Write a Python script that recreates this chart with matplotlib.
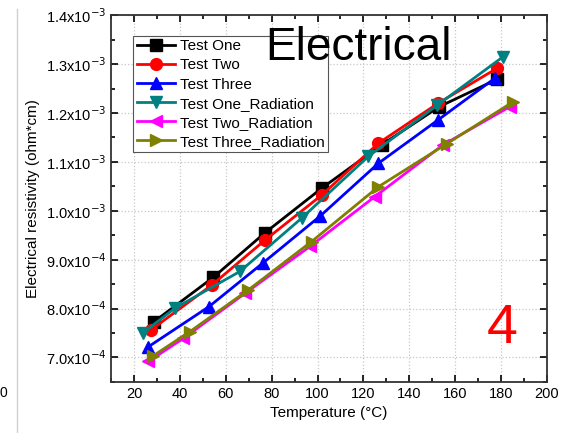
import matplotlib
matplotlib.use('Agg')
import matplotlib.pyplot as plt
from matplotlib.ticker import MultipleLocator, FuncFormatter
from matplotlib.lines import Line2D

# data (temperature in C, resistivity in ohm*cm)
t_one = [28.7, 54.6, 77.1, 101.8, 128.0, 153.1, 178.3]
r_one = [7.73e-4, 8.64e-4, 9.55e-4, 1.046e-3, 1.135e-3, 1.213e-3, 1.269e-3]
t_two = [27.3, 53.9, 77.1, 101.8, 126.5, 152.6, 178.1]
r_two = [7.56e-4, 8.48e-4, 9.40e-4, 1.032e-3, 1.138e-3, 1.220e-3, 1.291e-3]
t_three = [26.3, 52.7, 76.4, 101.1, 126.5, 152.6, 177.3]
r_three = [7.22e-4, 8.04e-4, 8.94e-4, 9.89e-4, 1.097e-3, 1.186e-3, 1.271e-3]
t_one_rad = [23.8, 37.9, 66.2, 93.1, 122.1, 152.2, 180.9]
r_one_rad = [7.50e-4, 8.01e-4, 8.76e-4, 9.85e-4, 1.111e-3, 1.216e-3, 1.315e-3]
t_two_rad = [26.3, 41.5, 68.4, 96.7, 125.0, 154.8, 183.9]
r_two_rad = [6.92e-4, 7.39e-4, 8.31e-4, 9.27e-4, 1.029e-3, 1.135e-3, 1.213e-3]
t_three_rad = [28.2, 44.4, 69.8, 97.4, 126.5, 156.3, 185.3]
r_three_rad = [7.03e-4, 7.53e-4, 8.38e-4, 9.37e-4, 1.049e-3, 1.137e-3, 1.223e-3]

series = [
    ('Test One', t_one, r_one, 'black', 's'),
    ('Test Two', t_two, r_two, '#ff0000', 'o'),
    ('Test Three', t_three, r_three, '#0000ff', '^'),
    ('Test One_Radiation', t_one_rad, r_one_rad, '#008080', 'v'),
    ('Test Two_Radiation', t_two_rad, r_two_rad, '#ff00ff', '<'),
    ('Test Three_Radiation', t_three_rad, r_three_rad, '#808000', '>'),
]

plt.rcParams['font.family'] = ['Liberation Sans', 'DejaVu Sans']

fig = plt.figure(figsize=(5.61, 4.33), dpi=100)
ax = fig.add_axes([0.198, 0.118, 0.777, 0.847])

for name, t, r, c, m in series:
    ax.plot(t, r, color=c, marker=m, markersize=8.5, linewidth=2, label=name)

ax.set_xlim(10, 200)
ax.set_ylim(6.5e-4, 1.4e-3)
ax.xaxis.set_major_locator(MultipleLocator(20))
ax.xaxis.set_minor_locator(MultipleLocator(10))
ax.yaxis.set_major_locator(MultipleLocator(1e-4))
ax.yaxis.set_minor_locator(MultipleLocator(0.5e-4))

def sci_fmt(v, pos):
    exp = -3 if v >= 1e-3 - 1e-9 else -4
    mant = v / 10 ** exp
    return '%.1fx10$^{%d}$' % (mant, exp)

ax.yaxis.set_major_formatter(FuncFormatter(sci_fmt))
ax.tick_params(which='both', direction='in', top=True, right=True, width=1.2)
ax.tick_params(which='major', length=5, labelsize=10.5)
ax.tick_params(which='minor', length=3)
ax.grid(True, which='major', color='#c8c8c8', linestyle=':', linewidth=0.9)
for s in ax.spines.values():
    s.set_linewidth(1.3)
    s.set_color('#333333')

ax.set_xlabel('Temperature (°C)', fontsize=11)
ax.set_ylabel('Electrical resistivity (ohm*cm)', fontsize=11)

leg = ax.legend(loc='upper left', bbox_to_anchor=(0.033, 0.965), fontsize=11,
                handlelength=2.5, labelspacing=0.33, borderpad=0.25,
                handletextpad=0.3, fancybox=False, framealpha=1)
leg.get_frame().set_edgecolor('#555555')
leg.get_frame().set_linewidth(0.8)

ax.text(0.567, 0.91, 'Electrical', transform=ax.transAxes, fontsize=33,
        ha='center', va='center', color='black', zorder=10)
ax.text(0.897, 0.145, '4', transform=ax.transAxes, fontsize=40,
        ha='center', va='center', color='#ff0000')

# slide remnants at the left edge
fig.add_artist(Line2D([0.031, 0.031], [0.0, 0.98], color='#d0d0d0', linewidth=1))
fig.text(0.0, 0.092, '0', fontsize=10, ha='left', va='center')

fig.savefig('out.png', dpi=100)
